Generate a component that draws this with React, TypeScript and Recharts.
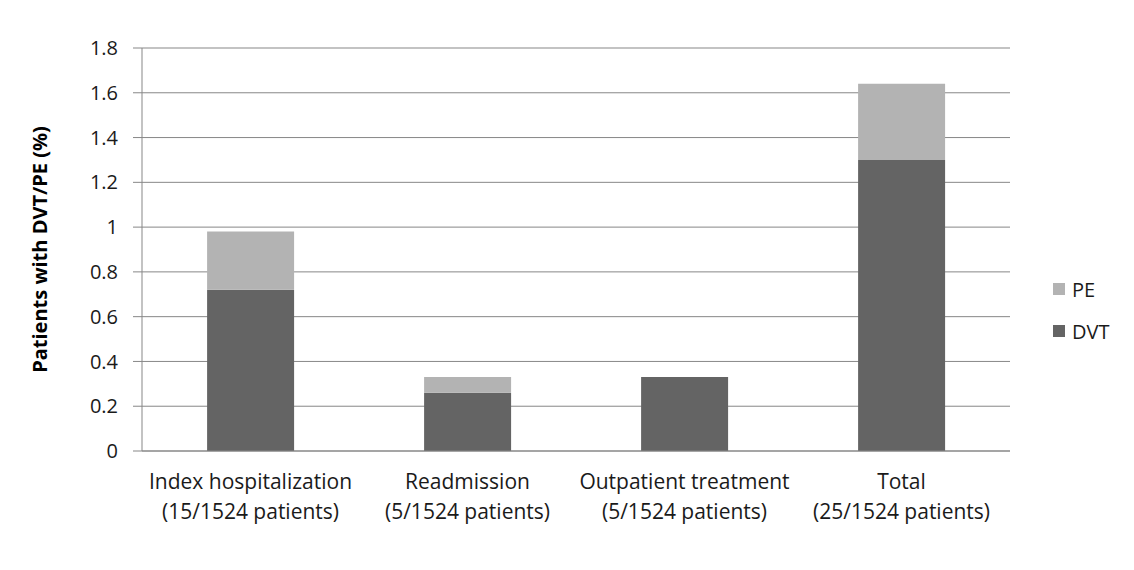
import { BarChart, Bar, XAxis, YAxis, CartesianGrid, Legend } from 'recharts';

const categories = [
  'Index hospitalization\n(15/1524 patients)',
  'Readmission\n(5/1524 patients)',
  'Outpatient treatment\n(5/1524 patients)',
  'Total\n(25/1524 patients)',
];
const dvtValues = [0.72, 0.26, 0.33, 1.3];
const peValues = [0.26, 0.07, 0, 0.34];
const yTicks = [0, 0.2, 0.4, 0.6, 0.8, 1, 1.2, 1.4, 1.6, 1.8];
const edgeTicks = [0, 1, 2, 3, 4];

const FONT = '"Open Sans", "Liberation Sans", sans-serif';
const DVT_COLOR = '#646464';
const PE_COLOR = '#b3b3b3';
const GRID = '#878787';

const data = categories.map((name, i) => ({ name, DVT: dvtValues[i], PE: peValues[i] }));

function CategoryTick({ x, y, payload }: any) {
  const lines = String(payload.value).split('\n');
  return (
    <g>
      {lines.map((line, i) => (
        <text key={i} x={x} y={y + 30 + i * 30} textAnchor="middle" fontSize={21} fill="#1a1a1a" fontFamily={FONT}>
          {line}
        </text>
      ))}
    </g>
  );
}

function LegendBox() {
  const items = [
    { label: 'PE', color: PE_COLOR },
    { label: 'DVT', color: DVT_COLOR },
  ];
  return (
    <div style={{ fontFamily: FONT, fontSize: 20, color: '#1a1a1a' }}>
      {items.map((it) => (
        <div key={it.label} style={{ display: 'flex', alignItems: 'center', height: 42 }}>
          <span style={{ width: 12, height: 12, background: it.color, display: 'inline-block', marginRight: 7 }} />
          {it.label}
        </div>
      ))}
    </div>
  );
}

export default function App() {
  return (
    <div style={{ position: 'absolute', left: 0, top: 0, width: 1134, height: 570, background: '#fff' }}>
      <BarChart
        width={1134}
        height={570}
        data={data}
        margin={{ top: 48, right: 124, bottom: 0, left: 0 }}
        barCategoryGap="30%"
      >
        <CartesianGrid vertical={false} stroke={GRID} strokeWidth={1} />
        <XAxis
          xAxisId="edge"
          type="number"
          domain={[0, 4]}
          ticks={edgeTicks}
          height={0}
          axisLine={false}
          tickLine={{ stroke: GRID }}
          tickSize={7}
          tick={() => <g />}
        />
        <XAxis
          dataKey="name"
          height={119}
          axisLine={{ stroke: GRID }}
          tickLine={false}
          tick={<CategoryTick />}
          interval={0}
        />
        <YAxis
          width={142}
          domain={[0, 1.8]}
          ticks={yTicks}
          axisLine={{ stroke: GRID }}
          tickLine={{ stroke: GRID }}
          tickSize={9}
          tickMargin={15}
          tick={{ fontSize: 20, fill: '#1a1a1a', fontFamily: FONT }}
          label={{
            value: 'Patients with DVT/PE (%)',
            angle: -90,
            position: 'insideLeft',
            offset: 40,
            style: { textAnchor: 'middle', fontSize: 20, fontWeight: 'bold', fill: '#000', fontFamily: FONT },
          }}
        />
        <Legend
          layout="vertical"
          align="center"
          verticalAlign="middle"
          content={<LegendBox />}
          wrapperStyle={{ left: 1053, top: 268, width: 80 }}
        />
        <Bar dataKey="DVT" stackId="a" fill={DVT_COLOR} isAnimationActive={false} />
        <Bar dataKey="PE" stackId="a" fill={PE_COLOR} isAnimationActive={false} />
      </BarChart>
    </div>
  );
}
